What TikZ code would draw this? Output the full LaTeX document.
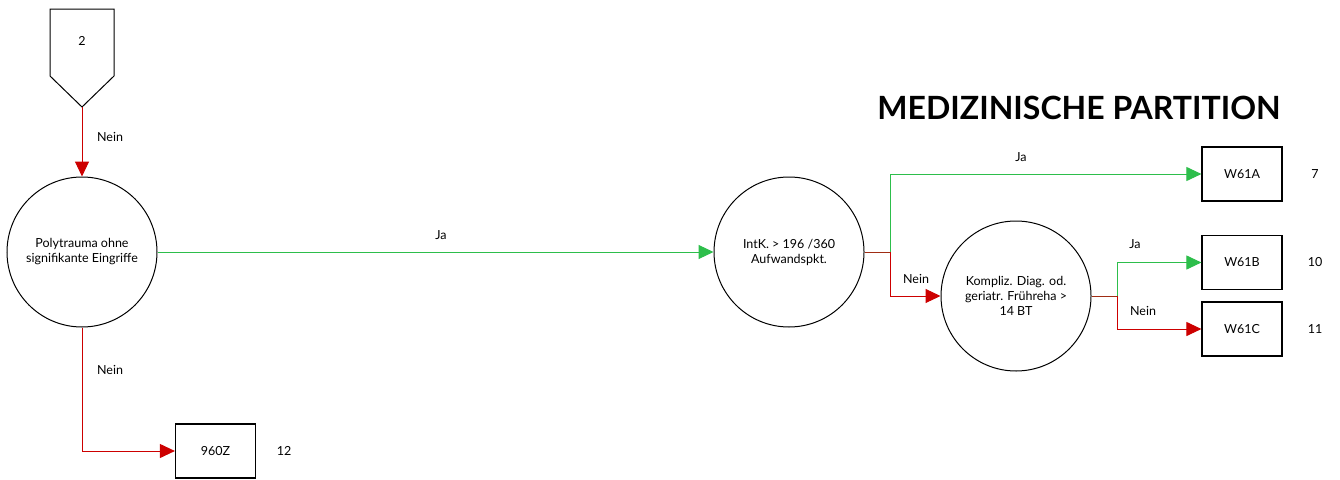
\documentclass[tikz,border=0pt]{standalone}
\usepackage{fontspec}
\setmainfont{Lato}
\usetikzlibrary{arrows.meta}
\definecolor{gr}{RGB}{45,190,75}
\definecolor{rd}{RGB}{205,0,0}
\definecolor{br}{RGB}{160,45,20}
\begin{document}
\begin{tikzpicture}[x=1pt,y=-1pt,
  every node/.style={font=\fontsize{12.5}{15}\selectfont},
  dec/.style={circle, draw, line width=1pt, minimum size=150pt, inner sep=0pt, align=center},
  res/.style={draw, line width=1.2pt, minimum width=80pt, minimum height=54pt, inner sep=0pt},
  yes/.style={gr, line width=1pt, -{Triangle[length=15pt,width=14pt]}},
  no/.style={rd, line width=1pt, -{Triangle[length=15pt,width=14pt]}},
  stem/.style={br, line width=1pt},
  lbl/.style={inner sep=0pt}]
\useasboundingbox (0,0) rectangle (1340,479);
\fill[white] (0,0) rectangle (1340,479);
% pentagon connector
\draw[line width=1pt] (50,9) -- (114,9) -- (114,76) -- (82,107) -- (50,76) -- cycle;
\node (p) at (82,41) {2};
\coordinate (ptip) at (82,107);
% nodes
\node[dec] (c1) at (82,252) {Polytrauma ohne\\signifikante Eingriffe};
\node[dec] (c2) at (789,252) {IntK. > 196 /360\\Aufwandspkt.};
\node[dec] (c3) at (1016,296) {Kompliz. Diag. od.\\geriatr. Frühreha >\\14 BT};
\node[res] (z) at (215.5,451) {960Z};
\node[res] (a) at (1242,174) {W61A};
\node[res] (b) at (1242,262.5) {W61B};
\node[res] (c) at (1242,329) {W61C};
\node[lbl] (nz) at (284,451) {12};
\node[lbl] (na) at (1315,174) {7};
\node[lbl] (nb) at (1315,262) {10};
\node[lbl] (nc) at (1315,329) {11};
\node[lbl, font=\fontsize{32}{38}\selectfont\bfseries] (t) at (1079,108) {MEDIZINISCHE PARTITION};
% connectors
\draw[no] (ptip) -- (c1.north);
\node[lbl] (l1) at (110,137) {Nein};
\draw[no] (c1.south) |- (z.west);
\node[lbl] (l2) at (110,370) {Nein};
\draw[yes] (c1.east) -- (c2.west);
\node[lbl] (l3) at (441,235) {Ja};
\coordinate (s1) at (890,252);
\draw[stem] (c2.east) -- (s1);
\draw[yes] (s1) |- (a.west);
\draw[no] (s1) |- (c3.west);
\node[lbl] (l4) at (1021,157) {Ja};
\node[lbl] (l5) at (916,279) {Nein};
\coordinate (s2) at (1117,296);
\draw[stem] (c3.east) -- (s2);
\draw[yes] (s2) |- (b.west);
\draw[no] (s2) |- (c.west);
\node[lbl] (l6) at (1135,244) {Ja};
\node[lbl] (l7) at (1143,311) {Nein};
\end{tikzpicture}
\end{document}
